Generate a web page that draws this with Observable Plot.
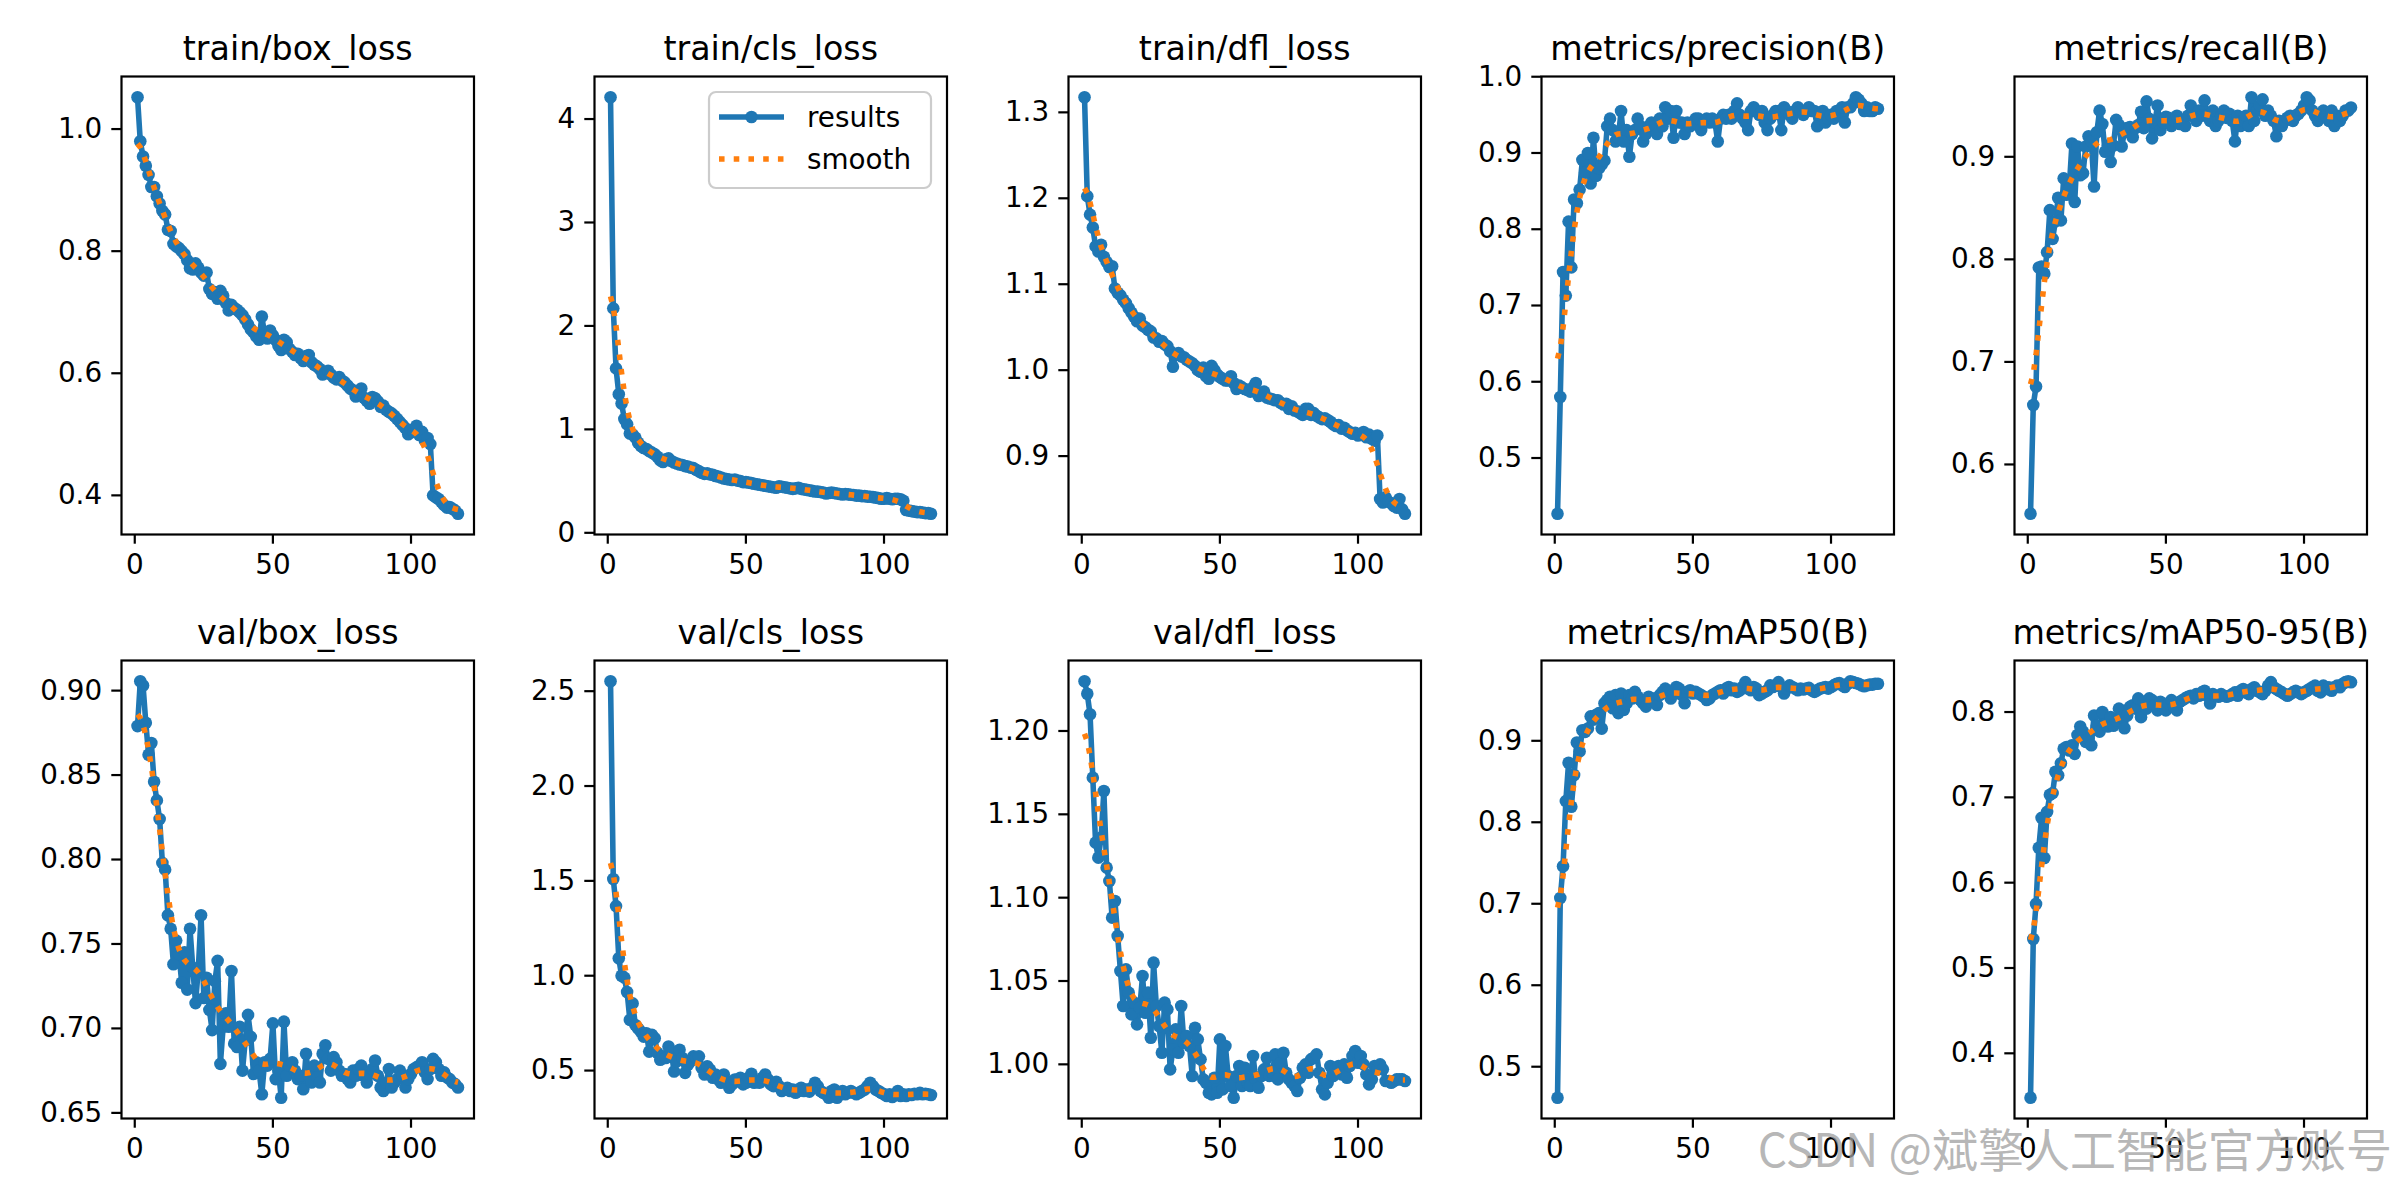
<!DOCTYPE html>
<html>
<head>
<meta charset="utf-8">
<script src="https://cdn.jsdelivr.net/npm/d3@7"></script>
<script src="https://cdn.jsdelivr.net/npm/@observablehq/plot@0.6"></script>
<style>
html,body{margin:0;padding:0;background:#fff;}
#fig{position:relative;width:2400px;height:1200px;overflow:hidden;background:#fff;font-family:"DejaVu Sans",sans-serif;}
#fig > svg{position:absolute;}
</style>
</head>
<body>
<div id="fig"></div>
<script>
// ---------- data ----------
const epochs = d3.range(1, 118);

const titles = ["train/box_loss","train/cls_loss","train/dfl_loss","metrics/precision(B)","metrics/recall(B)",
                "val/box_loss","val/cls_loss","val/dfl_loss","metrics/mAP50(B)","metrics/mAP50-95(B)"];

const trainBox = [1.052,0.980,0.955,0.940,0.925,0.905,0.905,0.890,0.878,0.866,
 0.860,0.835,0.833,0.812,0.808,0.805,0.800,0.795,0.785,0.772,
 0.770,0.780,0.773,0.765,0.760,0.765,0.738,0.730,0.733,0.722,
 0.735,0.727,0.715,0.703,0.712,0.707,0.704,0.700,0.695,0.688,
 0.680,0.672,0.667,0.660,0.655,0.693,0.664,0.657,0.670,0.662,
 0.655,0.645,0.638,0.655,0.651,0.640,0.635,0.630,0.632,0.625,
 0.620,0.628,0.630,0.618,0.614,0.611,0.607,0.598,0.600,0.604,
 0.598,0.593,0.590,0.594,0.588,0.585,0.580,0.575,0.572,0.562,
 0.570,0.575,0.560,0.555,0.550,0.561,0.559,0.554,0.545,0.547,
 0.540,0.537,0.534,0.530,0.525,0.520,0.515,0.510,0.500,0.507,
 0.504,0.514,0.499,0.504,0.490,0.494,0.484,
 0.400,0.397,0.394,0.389,0.384,0.380,0.381,0.378,0.375,0.370];

const trainCls = [4.21,2.17,1.59,1.34,1.25,1.10,1.05,0.96,0.95,0.92,
 0.87,0.84,0.82,0.81,0.79,0.775,0.76,0.735,0.70,0.685,
 0.71,0.72,0.695,0.68,0.67,0.66,0.655,0.645,0.64,0.63,
 0.625,0.61,0.595,0.58,0.57,0.575,0.565,0.56,0.55,0.545,
 0.535,0.525,0.52,0.515,0.51,0.515,0.505,0.50,0.49,0.49,
 0.485,0.48,0.475,0.47,0.465,0.46,0.455,0.45,0.445,0.44,
 0.435,0.45,0.445,0.44,0.435,0.43,0.425,0.43,0.435,0.425,
 0.42,0.415,0.41,0.405,0.40,0.398,0.395,0.39,0.38,0.385,
 0.39,0.385,0.38,0.375,0.37,0.375,0.372,0.368,0.365,0.36,
 0.36,0.355,0.355,0.35,0.348,0.345,0.34,0.335,0.33,0.33,
 0.335,0.33,0.325,0.33,0.33,0.325,0.31,
 0.22,0.215,0.21,0.205,0.20,0.20,0.195,0.19,0.19,0.185];

const trainDfl = [1.3175,1.2025,1.181,1.166,1.144,1.138,1.146,1.132,1.126,1.120,
 1.121,1.095,1.090,1.087,1.082,1.078,1.072,1.067,1.062,1.057,
 1.060,1.052,1.050,1.047,1.045,1.038,1.037,1.033,1.034,1.030,
 1.028,1.022,1.004,1.018,1.020,1.016,1.015,1.012,1.010,1.008,
 1.005,1.000,0.998,1.003,0.993,0.990,1.005,1.000,0.995,0.992,
 0.990,0.988,0.988,0.993,0.985,0.978,0.982,0.980,0.978,0.977,
 0.975,0.980,0.985,0.970,0.972,0.975,0.968,0.967,0.966,0.965,
 0.965,0.962,0.960,0.961,0.955,0.958,0.953,0.952,0.950,0.948,
 0.955,0.955,0.948,0.950,0.947,0.945,0.943,0.944,0.942,0.940,
 0.937,0.935,0.936,0.932,0.933,0.930,0.928,0.926,0.927,0.924,
 0.925,0.928,0.922,0.925,0.920,0.918,0.924,
 0.850,0.846,0.852,0.847,0.845,0.842,0.840,0.850,0.838,0.833];

const precision = [0.427,0.580,0.744,0.713,0.810,0.750,0.839,0.834,0.852,0.891,
 0.874,0.900,0.860,0.920,0.870,0.880,0.885,0.890,0.935,0.945,
 0.930,0.915,0.920,0.955,0.915,0.930,0.895,0.925,0.930,0.945,
 0.935,0.915,0.925,0.935,0.940,0.935,0.925,0.945,0.935,0.960,
 0.945,0.955,0.920,0.955,0.940,0.940,0.925,0.940,0.935,0.940,
 0.945,0.945,0.930,0.940,0.945,0.940,0.945,0.940,0.915,0.945,
 0.950,0.945,0.950,0.945,0.955,0.965,0.950,0.945,0.940,0.930,
 0.955,0.960,0.955,0.950,0.955,0.940,0.930,0.945,0.950,0.955,
 0.955,0.930,0.960,0.955,0.950,0.945,0.955,0.960,0.955,0.950,
 0.955,0.960,0.955,0.955,0.935,0.950,0.955,0.940,0.945,0.950,
 0.945,0.955,0.950,0.960,0.940,0.960,0.960,0.965,0.973,0.970,
 0.965,0.955,0.960,0.955,0.955,0.960,0.958];

const recall = [0.552,0.658,0.676,0.792,0.793,0.786,0.807,0.848,0.820,0.837,
 0.860,0.838,0.879,0.863,0.869,0.913,0.856,0.910,0.882,0.884,
 0.910,0.920,0.915,0.871,0.924,0.945,0.932,0.905,0.911,0.895,
 0.911,0.936,0.931,0.910,0.924,0.928,0.929,0.919,0.928,0.931,
 0.944,0.928,0.954,0.937,0.918,0.934,0.950,0.926,0.934,0.939,
 0.938,0.930,0.935,0.940,0.932,0.935,0.930,0.940,0.950,0.940,
 0.935,0.945,0.940,0.955,0.940,0.935,0.945,0.930,0.935,0.940,
 0.945,0.938,0.942,0.935,0.915,0.940,0.930,0.935,0.940,0.930,
 0.958,0.935,0.945,0.950,0.956,0.940,0.945,0.940,0.935,0.920,
 0.935,0.930,0.935,0.938,0.940,0.935,0.940,0.942,0.945,0.950,
 0.958,0.955,0.945,0.940,0.935,0.940,0.945,0.940,0.935,0.945,
 0.930,0.940,0.935,0.940,0.945,0.945,0.948];

const valBox = [0.879,0.9055,0.903,0.881,0.862,0.869,0.846,0.835,0.824,0.798,
 0.794,0.767,0.759,0.738,0.752,0.744,0.727,0.745,0.723,0.759,
 0.736,0.715,0.735,0.767,0.718,0.730,0.711,0.699,0.728,0.740,
 0.679,0.701,0.709,0.701,0.734,0.691,0.689,0.701,0.675,0.693,
 0.708,0.695,0.673,0.680,0.675,0.661,0.680,0.678,0.682,0.703,
 0.670,0.675,0.659,0.704,0.672,0.678,0.680,0.675,0.670,0.672,
 0.664,0.685,0.672,0.668,0.678,0.671,0.668,0.685,0.690,0.682,
 0.675,0.683,0.680,0.675,0.672,0.673,0.670,0.668,0.675,0.672,
 0.676,0.678,0.672,0.668,0.673,0.676,0.681,0.672,0.665,0.663,
 0.668,0.676,0.665,0.668,0.670,0.675,0.672,0.665,0.670,0.673,
 0.676,0.677,0.678,0.680,0.674,0.670,0.676,0.682,0.680,0.676,
 0.672,0.674,0.671,0.670,0.668,0.667,0.665];

const valCls = [2.552,1.51,1.367,1.092,1.0,0.99,0.914,0.767,0.854,0.74,
 0.722,0.705,0.679,0.697,0.60,0.688,0.67,0.593,0.557,0.575,
 0.566,0.627,0.60,0.495,0.549,0.61,0.566,0.488,0.53,0.549,
 0.575,0.566,0.575,0.514,0.479,0.523,0.505,0.462,0.479,0.453,
 0.436,0.479,0.444,0.409,0.427,0.453,0.444,0.462,0.427,0.436,
 0.462,0.483,0.436,0.441,0.436,0.462,0.479,0.453,0.427,0.418,
 0.441,0.418,0.392,0.40,0.409,0.392,0.40,0.383,0.392,0.409,
 0.392,0.40,0.389,0.409,0.436,0.418,0.392,0.383,0.375,0.357,
 0.392,0.40,0.357,0.383,0.392,0.375,0.383,0.392,0.383,0.375,
 0.383,0.392,0.40,0.418,0.436,0.418,0.40,0.392,0.383,0.375,
 0.366,0.375,0.361,0.371,0.392,0.366,0.375,0.366,0.375,0.371,
 0.378,0.375,0.383,0.375,0.378,0.375,0.371];

const valDfl = [1.2298,1.2223,1.210,1.172,1.133,1.124,1.136,1.164,1.118,1.110,
 1.088,1.098,1.077,1.056,1.035,1.057,1.043,1.030,1.037,1.024,
 1.034,1.053,1.031,1.043,1.016,1.061,1.035,1.023,1.007,1.037,
 1.033,0.997,1.009,1.021,1.007,1.035,1.013,1.017,1.011,0.993,
 1.022,1.015,1.003,0.991,0.989,0.983,0.982,0.992,0.983,1.015,
 0.985,1.011,0.993,0.987,0.980,0.993,0.999,0.987,0.998,0.989,
 0.987,1.005,0.991,0.986,0.993,0.997,1.004,0.993,0.995,1.006,
 0.991,1.001,1.007,0.995,0.991,0.989,0.987,0.984,0.992,0.998,
 1.000,0.995,1.003,1.004,1.006,0.995,0.985,0.982,0.989,0.999,
 0.993,0.997,0.999,0.994,1.000,0.992,0.999,1.005,1.008,1.001,
 1.005,1.000,0.994,0.988,0.991,0.999,0.997,1.000,0.997,0.990,
 0.990,0.989,0.990,0.991,0.991,0.991,0.990];

const mAP50 = [0.462,0.707,0.746,0.826,0.873,0.819,0.858,0.898,0.887,0.913,
 0.911,0.915,0.930,0.926,0.932,0.934,0.915,0.946,0.950,0.954,
 0.940,0.956,0.934,0.958,0.938,0.946,0.956,0.952,0.960,0.954,
 0.950,0.946,0.942,0.954,0.948,0.952,0.944,0.956,0.960,0.964,
 0.960,0.952,0.958,0.966,0.964,0.956,0.946,0.960,0.962,0.958,
 0.960,0.958,0.956,0.954,0.950,0.952,0.956,0.958,0.960,0.962,
 0.958,0.964,0.966,0.962,0.964,0.960,0.962,0.966,0.972,0.964,
 0.962,0.966,0.964,0.956,0.958,0.960,0.962,0.968,0.966,0.968,
 0.972,0.966,0.958,0.964,0.968,0.966,0.964,0.962,0.964,0.963,
 0.964,0.965,0.962,0.960,0.962,0.964,0.965,0.966,0.964,0.966,
 0.968,0.970,0.971,0.968,0.966,0.970,0.973,0.972,0.971,0.970,
 0.968,0.967,0.968,0.969,0.969,0.970,0.970];

const mAP5095 = [0.348,0.534,0.575,0.641,0.676,0.629,0.683,0.703,0.705,0.730,
 0.726,0.740,0.757,0.759,0.755,0.761,0.751,0.773,0.783,0.777,
 0.765,0.769,0.761,0.796,0.784,0.777,0.800,0.786,0.783,0.794,
 0.784,0.790,0.804,0.794,0.781,0.796,0.806,0.808,0.804,0.816,
 0.794,0.812,0.804,0.816,0.814,0.808,0.802,0.812,0.806,0.802,
 0.810,0.814,0.806,0.802,0.812,0.814,0.816,0.818,0.819,0.816,
 0.821,0.819,0.823,0.825,0.819,0.810,0.821,0.819,0.818,0.821,
 0.819,0.818,0.819,0.821,0.823,0.819,0.825,0.827,0.823,0.821,
 0.827,0.829,0.825,0.823,0.821,0.825,0.831,0.835,0.829,0.827,
 0.825,0.823,0.821,0.819,0.821,0.823,0.825,0.823,0.821,0.823,
 0.825,0.827,0.829,0.831,0.825,0.823,0.831,0.827,0.829,0.825,
 0.829,0.831,0.829,0.833,0.835,0.836,0.835];

const xTicks = [0, 50, 100];
const yTicksList = [
  [0.4,0.6,0.8,1.0], [0,1,2,3,4], [0.9,1.0,1.1,1.2,1.3], [0.5,0.6,0.7,0.8,0.9,1.0], [0.6,0.7,0.8,0.9],
  [0.65,0.70,0.75,0.80,0.85,0.90], [0.5,1.0,1.5,2.0,2.5], [1.00,1.05,1.10,1.15,1.20], [0.5,0.6,0.7,0.8,0.9], [0.4,0.5,0.6,0.7,0.8]
];
const yFormats = [".1f","d",".1f",".1f",".1f",".2f",".1f",".2f",".1f",".1f"];
const seriesList = [trainBox, trainCls, trainDfl, precision, recall, valBox, valCls, valDfl, mAP50, mAP5095];
const legendLabels = ["results", "smooth"];
const watermark = "CSDN @斌擎人工智能官方账号";

// ---------- helpers ----------
seriesList.forEach((s, i) => { if (s.length !== epochs.length) throw new Error("series " + i + " has " + s.length); });

// gaussian_filter1d(y, sigma=3), mode "reflect", truncate 4
function gaussianSmooth(y, sigma) {
  const r = Math.round(4 * sigma);
  const w = [];
  let sum = 0;
  for (let i = -r; i <= r; i++) { const v = Math.exp(-0.5 * i * i / (sigma * sigma)); w.push(v); sum += v; }
  const n = y.length;
  const refl = (i) => { while (i < 0 || i >= n) { if (i < 0) i = -i - 1; if (i >= n) i = 2 * n - i - 1; } return i; };
  return y.map((_, k) => { let acc = 0; for (let j = -r; j <= r; j++) acc += w[j + r] * y[refl(k + j)]; return acc / sum; });
}

// ---------- layout ----------
const fig = document.getElementById("fig");
const AW = 352.5, AH = 458;
const ML = 120, MR = 30, MT = 80, MB = 70;
const colLeft = [120.7, 594.1, 1067.5, 1540.9, 2014.3];
const rowTop = [76, 660];
const BLUE = "#1f77b4", ORANGE = "#ff7f0e";
const LW = 5.56, TICK = 9.7, FS = 27.8, TFS = 33.3;

const xMin = d3.min(epochs), xMax = d3.max(epochs), xPad = 0.05 * (xMax - xMin);
const xDomain = [xMin - xPad, xMax + xPad];

seriesList.forEach((vals, i) => {
  const rows = epochs.map((e, k) => ({epoch: e, value: vals[k]}));
  const sm = gaussianSmooth(vals, 3);
  const smRows = epochs.map((e, k) => ({epoch: e, value: sm[k]}));
  const lo = Math.min(d3.min(vals), d3.min(sm)), hi = Math.max(d3.max(vals), d3.max(sm));
  const pad = 0.05 * (hi - lo);
  const yDomain = [lo - pad, hi + pad];
  const fmt = d3.format(yFormats[i]);

  const svg = Plot.plot({
    width: AW + ML + MR,
    height: AH + MT + MB,
    marginLeft: ML, marginRight: MR, marginTop: MT, marginBottom: MB,
    style: {fontFamily: "DejaVu Sans, sans-serif", fontSize: FS + "px", background: "transparent", overflow: "visible", color: "black"},
    x: {domain: xDomain},
    y: {domain: yDomain},
    marks: [
      Plot.line(rows, {x: "epoch", y: "value", stroke: BLUE, strokeWidth: LW, strokeLinejoin: "round"}),
      Plot.dot(rows, {x: "epoch", y: "value", fill: BLUE, r: 6.3}),
      Plot.line(smRows, {x: "epoch", y: "value", stroke: ORANGE, strokeWidth: LW, strokeDasharray: "5.56,9.17", strokeLinecap: "butt"}),
      Plot.frame({stroke: "black", strokeWidth: 2.2}),
      Plot.axisX({ticks: xTicks, tickSize: TICK, tickPadding: TICK, strokeWidth: 2.2, fontSize: FS, label: null, tickFormat: (d) => String(d)}),
      Plot.axisY({ticks: yTicksList[i], tickSize: TICK, tickPadding: TICK, strokeWidth: 2.2, fontSize: FS, label: null, tickFormat: fmt}),
      Plot.text([titles[i]], {text: (d) => d, frameAnchor: "top", dy: -26.7, fontSize: TFS, fill: "black", lineAnchor: "middle"})
    ]
  });
  const col = i % 5, row = Math.floor(i / 5);
  svg.style.left = (colLeft[col] - ML) + "px";
  svg.style.top = (rowTop[row] - MT) + "px";
  fig.appendChild(svg);
});

// ---------- legend (on 2nd panel) and watermark ----------
const ns = "http://www.w3.org/2000/svg";
const ov = document.createElementNS(ns, "svg");
ov.setAttribute("width", 2400); ov.setAttribute("height", 1200);
ov.style.left = "0px"; ov.style.top = "0px"; ov.style.pointerEvents = "none";
fig.appendChild(ov);
function el(tag, attrs, text) {
  const e = document.createElementNS(ns, tag);
  for (const k in attrs) e.setAttribute(k, attrs[k]);
  if (text != null) e.textContent = text;
  ov.appendChild(e);
  return e;
}
el("rect", {x: 709, y: 92, width: 222, height: 96, rx: 7, ry: 7, fill: "rgba(255,255,255,0.8)", stroke: "#cccccc", "stroke-width": 2.2});
el("line", {x1: 719, x2: 784, y1: 117, y2: 117, stroke: BLUE, "stroke-width": LW});
el("circle", {cx: 751.5, cy: 117, r: 6.3, fill: BLUE});
el("line", {x1: 719, x2: 784, y1: 159, y2: 159, stroke: ORANGE, "stroke-width": LW, "stroke-dasharray": "5.56,9.17"});
el("text", {x: 807, y: 127, "font-family": "DejaVu Sans, sans-serif", "font-size": FS, fill: "black"}, legendLabels[0]);
el("text", {x: 807, y: 169, "font-family": "DejaVu Sans, sans-serif", "font-size": FS, fill: "black"}, legendLabels[1]);
el("text", {x: 2392, y: 1167, "text-anchor": "end", "font-family": "Noto Sans CJK SC, sans-serif", "font-size": 46, fill: "rgba(160,160,160,0.75)"}, watermark);
</script>
</body>
</html>
